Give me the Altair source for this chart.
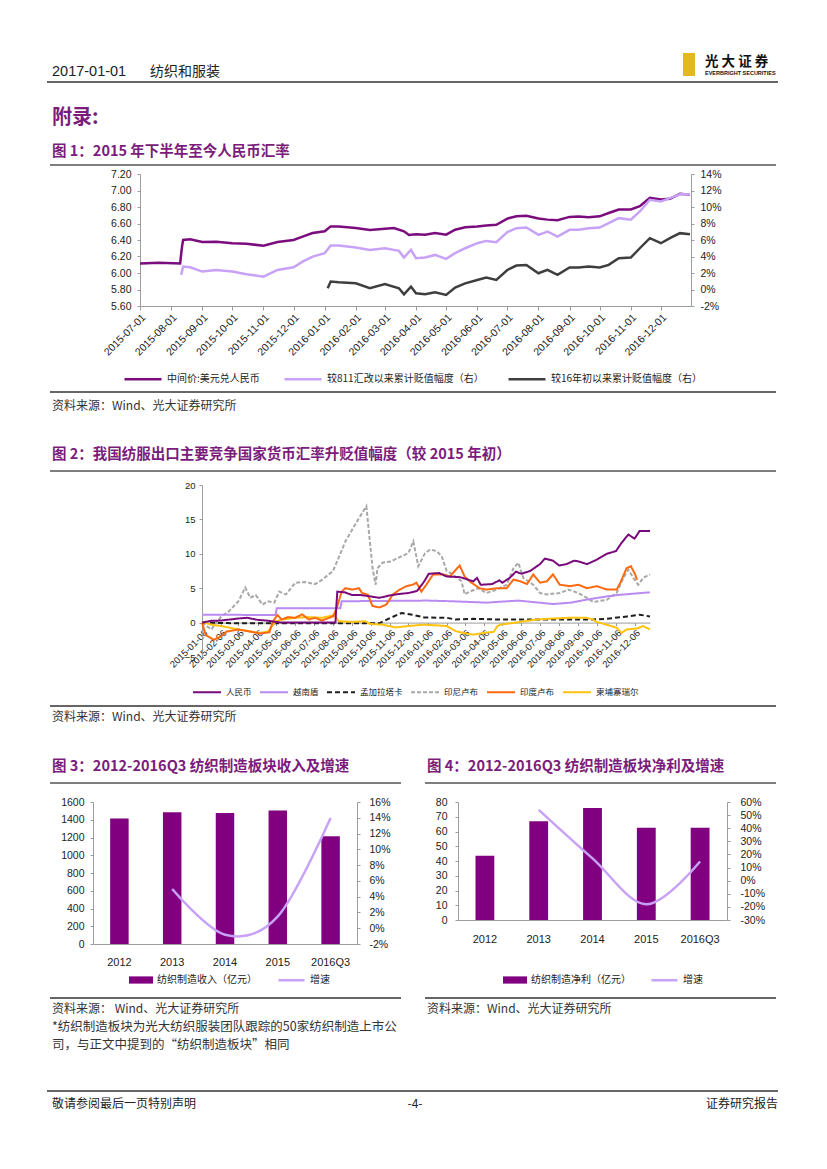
import altair as alt
import pandas as pd

CJK = "Noto Sans CJK SC"
LAT = "Liberation Sans"
TITLE_C = "#7B1C7C"
W, H = 811, 1153
OX, OY = 8, 8

# ---------------- Figure 1 data ----------------
f1_series = ["中间价:美元兑人民币", "较811汇改以来累计贬值幅度（右）", "较16年初以来累计贬值幅度（右）"]
f1_colors = ["#7B0C7E", "#C7A2F7", "#3E3E3E"]
f1_xticks = ["2015-07-01", "2015-08-01", "2015-09-01", "2015-10-01", "2015-11-01", "2015-12-01",
             "2016-01-01", "2016-02-01", "2016-03-01", "2016-04-01", "2016-05-01", "2016-06-01",
             "2016-07-01", "2016-08-01", "2016-09-01", "2016-10-01", "2016-11-01", "2016-12-01"]
f1_yl_ticks = [5.6, 5.8, 6.0, 6.2, 6.4, 6.6, 6.8, 7.0, 7.2]
f1_yr_ticks = [-2, 0, 2, 4, 6, 8, 10, 12, 14]

f1_mid_dates = ["2015-07-01", "2015-07-20", "2015-08-10", "2015-08-11", "2015-08-12", "2015-08-13",
                "2015-08-20", "2015-09-01", "2015-09-15", "2015-10-01", "2015-10-15", "2015-11-01",
                "2015-11-15", "2015-12-01", "2015-12-10", "2015-12-20", "2016-01-01", "2016-01-07",
                "2016-01-15", "2016-02-01", "2016-02-15", "2016-03-01", "2016-03-10", "2016-03-20",
                "2016-03-25", "2016-04-01", "2016-04-10", "2016-04-20", "2016-05-01", "2016-05-10",
                "2016-05-20", "2016-06-01", "2016-06-10", "2016-06-20", "2016-07-01", "2016-07-10",
                "2016-07-20", "2016-08-01", "2016-08-10", "2016-08-20", "2016-09-01", "2016-09-10",
                "2016-09-20", "2016-10-01", "2016-10-10", "2016-10-20", "2016-11-01", "2016-11-10",
                "2016-11-20", "2016-12-01", "2016-12-10", "2016-12-20", "2016-12-30"]
f1_mid_vals = [6.115, 6.125, 6.116, 6.23, 6.33, 6.40,
               6.41, 6.375, 6.38, 6.36, 6.355, 6.33,
               6.375, 6.40, 6.44, 6.485, 6.505, 6.565,
               6.565, 6.545, 6.52, 6.535, 6.545, 6.505,
               6.46, 6.47, 6.465, 6.485, 6.465, 6.525,
               6.555, 6.565, 6.575, 6.585, 6.66, 6.687,
               6.695, 6.66, 6.647, 6.64, 6.68, 6.685,
               6.675, 6.687, 6.727, 6.77, 6.77, 6.81,
               6.91, 6.89, 6.90, 6.96, 6.95]

f1_811_dates = ["2015-08-11", "2015-08-13", "2015-08-20", "2015-09-01", "2015-09-15", "2015-10-01",
                "2015-10-15", "2015-11-01", "2015-11-15", "2015-12-01", "2015-12-10", "2015-12-20",
                "2016-01-01", "2016-01-07", "2016-01-15", "2016-02-01", "2016-02-15", "2016-03-01",
                "2016-03-15", "2016-03-20", "2016-03-27", "2016-04-01", "2016-04-10", "2016-04-20",
                "2016-05-01", "2016-05-10", "2016-05-20", "2016-06-01", "2016-06-10", "2016-06-20",
                "2016-07-01", "2016-07-10", "2016-07-20", "2016-08-01", "2016-08-10", "2016-08-20",
                "2016-09-01", "2016-09-10", "2016-09-20", "2016-10-01", "2016-10-10", "2016-10-20",
                "2016-11-01", "2016-11-10", "2016-11-20", "2016-12-01", "2016-12-10", "2016-12-20",
                "2016-12-30"]
f1_811_vals = [1.77, 2.78, 2.70, 2.17, 2.37, 2.17,
               1.85, 1.56, 2.37, 2.70, 3.38, 3.99,
               4.40, 5.33, 5.33, 5.09, 4.80, 5.00,
               4.68, 3.87, 4.80, 3.79, 3.87, 4.19,
               3.71, 4.40, 5.00, 5.61, 5.89, 5.73,
               6.95, 7.43, 7.51, 6.62, 7.03, 6.42,
               7.23, 7.23, 7.43, 7.51, 8.04, 8.65,
               8.45, 9.46, 10.87, 10.67, 11.08, 11.56,
               11.56]

f1_16_dates = ["2016-01-04", "2016-01-07", "2016-01-15", "2016-02-01", "2016-02-15", "2016-03-01",
               "2016-03-15", "2016-03-20", "2016-03-27", "2016-04-01", "2016-04-10", "2016-04-20",
               "2016-05-01", "2016-05-10", "2016-05-20", "2016-06-01", "2016-06-10", "2016-06-20",
               "2016-07-01", "2016-07-10", "2016-07-20", "2016-08-01", "2016-08-10", "2016-08-20",
               "2016-09-01", "2016-09-10", "2016-09-20", "2016-10-01", "2016-10-10", "2016-10-20",
               "2016-11-01", "2016-11-10", "2016-11-20", "2016-12-01", "2016-12-10", "2016-12-20",
               "2016-12-30"]
f1_16_vals = [0.15, 0.96, 0.87, 0.75, 0.15, 0.67,
              0.15, -0.58, 0.35, -0.46, -0.58, -0.34,
              -0.66, 0.23, 0.75, 1.16, 1.44, 1.16,
              2.37, 2.90, 2.98, 1.97, 2.37, 1.77,
              2.66, 2.66, 2.78, 2.66, 2.98, 3.79,
              3.87, 5.00, 6.22, 5.61, 6.22, 6.83,
              6.70]

# ---------------- Figure 2 data ----------------
f2_series = ["人民币", "越南盾", "孟加拉塔卡", "印尼卢布", "印度卢布", "柬埔寨瑞尔"]
f2_colors = ["#7A0A7C", "#B98AF0", "#1E1E1E", "#A8A8A8", "#FF6A10", "#FFC20E"]
f2_dashes = [[1, 0], [1, 0], [5, 3], [4, 2], [1, 0], [1, 0]]
f2_xticks = ["2015-01-06", "2015-02-06", "2015-03-06", "2015-04-06", "2015-05-06", "2015-06-06",
             "2015-07-06", "2015-08-06", "2015-09-06", "2015-10-06", "2015-11-06", "2015-12-06",
             "2016-01-06", "2016-02-06", "2016-03-06", "2016-04-06", "2016-05-06", "2016-06-06",
             "2016-07-06", "2016-08-06", "2016-09-06", "2016-10-06", "2016-11-06", "2016-12-06"]
f2_yticks = [-5, 0, 5, 10, 15, 20]

rmb_dates = ["2015-01-06", "2015-01-20", "2015-02-06", "2015-03-06", "2015-03-20", "2015-04-06",
             "2015-04-20", "2015-05-06", "2015-05-15", "2015-08-10", "2015-08-11", "2015-08-13",
             "2015-08-25", "2015-09-06", "2015-09-20", "2015-10-06", "2015-10-20", "2015-11-06",
             "2015-11-20", "2015-12-06", "2015-12-20", "2015-12-31", "2016-01-08", "2016-01-25",
             "2016-02-06", "2016-02-28", "2016-03-20", "2016-03-26", "2016-04-01", "2016-04-20",
             "2016-05-01", "2016-05-06", "2016-05-18", "2016-05-28", "2016-06-06", "2016-06-20",
             "2016-07-06", "2016-07-14", "2016-07-27", "2016-08-06", "2016-08-18", "2016-08-30",
             "2016-09-06", "2016-09-20", "2016-10-06", "2016-10-22", "2016-11-06", "2016-11-15",
             "2016-11-26", "2016-12-06", "2016-12-14", "2016-12-31"]
rmb_vals = [0.0, 0.25, 0.3, 0.6, 0.7, 0.4,
            0.3, 0.1, 0.0, 0.0, 1.9, 4.5,
            4.4, 4.0, 4.0, 3.8, 3.6, 3.95,
            4.15, 4.3, 4.6, 5.9, 7.1, 7.2,
            6.7, 6.6, 6.0, 6.5, 5.5, 5.6,
            6.15, 5.8, 6.5, 7.4, 7.1, 7.5,
            8.5, 9.3, 9.0, 8.3, 8.5, 9.0,
            8.9, 8.5, 9.15, 10.0, 10.4, 11.6,
            12.8, 12.2, 13.3, 13.3]

vnd_dates = ["2015-01-06", "2015-05-05", "2015-05-07", "2015-08-18", "2015-08-20", "2016-01-06",
             "2016-02-16", "2016-04-10", "2016-06-01", "2016-07-27", "2016-08-25", "2016-09-20",
             "2016-10-22", "2016-11-13", "2016-12-31"]
vnd_vals = [1.15, 1.1, 2.1, 2.1, 3.1, 3.2,
            3.1, 2.9, 3.2, 2.7, 2.9, 3.35,
            3.8, 4.05, 4.4]

bdt_dates = ["2015-01-06", "2015-03-01", "2015-06-01", "2015-10-20", "2015-11-05", "2015-11-25",
             "2015-12-15", "2015-12-31", "2016-02-06", "2016-02-20", "2016-03-20", "2016-05-01",
             "2016-07-01", "2016-09-30", "2016-10-22", "2016-11-24", "2016-12-14", "2016-12-31"]
bdt_vals = [0.0, -0.1, -0.1, -0.1, 0.6, 1.4,
            1.1, 0.75, 0.7, 0.45, 0.55, 0.45,
            0.45, 0.45, 0.55, 0.9, 1.15, 0.9]

idr_dates = ["2015-01-06", "2015-01-21", "2015-02-06", "2015-02-18", "2015-03-06", "2015-03-17",
             "2015-03-25", "2015-04-03", "2015-04-14", "2015-04-22", "2015-05-03", "2015-05-11",
             "2015-05-22", "2015-06-06", "2015-06-22", "2015-07-08", "2015-07-19", "2015-08-06",
             "2015-08-15", "2015-08-26", "2015-09-06", "2015-09-17", "2015-09-29", "2015-10-09",
             "2015-10-14", "2015-10-17", "2015-10-25", "2015-11-08", "2015-11-19", "2015-12-06",
             "2015-12-14", "2015-12-22", "2016-01-02", "2016-01-10", "2016-01-21", "2016-01-29",
             "2016-02-06", "2016-02-16", "2016-03-01", "2016-03-06", "2016-03-14", "2016-03-28",
             "2016-04-10", "2016-04-27", "2016-05-13", "2016-05-24", "2016-06-01", "2016-06-09",
             "2016-06-25", "2016-07-06", "2016-07-17", "2016-08-07", "2016-08-21", "2016-09-06",
             "2016-09-20", "2016-09-30", "2016-10-22", "2016-11-07", "2016-11-18", "2016-11-26",
             "2016-12-04", "2016-12-12", "2016-12-20", "2016-12-31"]
idr_vals = [0.0, -1.0, 0.9, 1.6, 3.1, 5.1,
            3.6, 4.0, 2.6, 3.1, 2.9, 4.5,
            4.1, 5.8, 5.9, 5.6, 6.2, 7.5,
            9.4, 11.8, 13.5, 15.2, 16.9, 7.9,
            5.5, 7.9, 8.7, 8.9, 9.4, 10.1,
            11.8, 8.2, 10.1, 10.6, 10.4, 9.6,
            7.5, 7.0, 6.0, 4.1, 4.5, 5.0,
            4.3, 4.8, 5.5, 7.9, 8.7, 6.5,
            5.5, 4.3, 4.1, 4.3, 4.8, 4.3,
            3.6, 3.0, 3.3, 4.3, 6.5, 7.7,
            6.5, 5.5, 6.5, 7.0]

inr_dates = ["2015-01-06", "2015-01-12", "2015-01-25", "2015-02-06", "2015-02-15", "2015-03-06",
             "2015-03-25", "2015-04-10", "2015-04-25", "2015-05-01", "2015-05-08", "2015-05-15",
             "2015-05-25", "2015-06-06", "2015-06-17", "2015-06-28", "2015-07-08", "2015-07-19",
             "2015-08-06", "2015-08-12", "2015-08-20", "2015-08-26", "2015-09-06", "2015-09-17",
             "2015-09-22", "2015-10-01", "2015-10-09", "2015-10-20", "2015-10-31", "2015-11-11",
             "2015-11-22", "2015-12-03", "2015-12-13", "2015-12-19", "2015-12-27", "2016-01-04",
             "2016-01-15", "2016-02-01", "2016-02-11", "2016-02-21", "2016-02-27", "2016-03-06",
             "2016-03-14", "2016-03-22", "2016-03-30", "2016-04-10", "2016-04-27", "2016-05-13",
             "2016-05-24", "2016-06-04", "2016-06-15", "2016-06-25", "2016-07-06", "2016-07-17",
             "2016-07-27", "2016-08-07", "2016-08-24", "2016-09-06", "2016-09-20", "2016-10-06",
             "2016-10-22", "2016-11-07", "2016-11-13", "2016-11-23", "2016-11-30", "2016-12-07",
             "2016-12-10"]
inr_vals = [0.0, -1.8, -2.5, -2.0, -1.3, -1.0,
            -1.3, -1.6, -1.4, 0.2, 1.1, 0.45,
            0.8, 0.7, 1.2, 0.45, 0.7, 0.3,
            0.9, 2.1, 4.5, 5.0, 4.8, 5.0,
            4.3, 4.1, 2.4, 2.2, 2.6, 4.1,
            4.8, 5.3, 5.5, 5.8, 4.5, 5.5,
            7.0, 7.0, 6.7, 7.7, 8.3, 6.7,
            6.0, 5.5, 5.0, 4.8, 5.0, 5.0,
            6.25, 6.0, 5.6, 7.0, 5.8, 6.0,
            7.0, 5.5, 5.3, 5.5, 5.0, 5.3,
            4.8, 4.8, 5.8, 7.9, 8.2, 7.0,
            6.2]

khr_dates = ["2015-01-06", "2015-01-21", "2015-02-06", "2015-03-06", "2015-03-22", "2015-04-08",
             "2015-04-22", "2015-05-01", "2015-05-06", "2015-05-15", "2015-06-06", "2015-06-28",
             "2015-07-19", "2015-08-06", "2015-08-10", "2015-08-15", "2015-09-06", "2015-09-27",
             "2015-10-05", "2015-10-25", "2015-11-15", "2015-12-06", "2015-12-31", "2016-01-21",
             "2016-02-06", "2016-02-21", "2016-03-04", "2016-03-20", "2016-04-06", "2016-04-22",
             "2016-04-28", "2016-05-03", "2016-05-24", "2016-06-04", "2016-06-30", "2016-07-27",
             "2016-08-24", "2016-09-20", "2016-09-30", "2016-10-05", "2016-10-22", "2016-11-07",
             "2016-11-15", "2016-11-23", "2016-12-10", "2016-12-20", "2016-12-31"]
khr_vals = [0.1, -0.3, -0.5, -1.0, -1.25, -1.5,
            -1.35, -0.3, 0.2, 0.45, 0.7, 0.8,
            0.7, 1.05, 0.9, 0.2, 0.1, 0.2,
            -0.2, -0.3, -0.7, -0.5, -0.3, -0.4,
            -0.5, -1.25, -1.5, -1.75, -1.5, -1.35,
            -0.5, -0.3, -0.05, 0.1, 0.45, 0.6,
            0.7, 0.7, 0.45, 0.1, -0.3, -0.75,
            -1.5, -1.0, -0.85, -0.5, -1.0]

# ---------------- Figure 3 / 4 data ----------------
f34_years = ["2012", "2013", "2014", "2015", "2016Q3"]
f3_revenue = [1415, 1485, 1475, 1505, 1215]
f3_growth = [None, 4.97, -0.82, 1.5, 13.97]
f4_profit = [43.5, 67, 76, 62.5, 62.5]
f4_growth = [None, 54.0, 17.0, -18.0, 14.6]
f3_yl_ticks = [0, 200, 400, 600, 800, 1000, 1200, 1400, 1600]
f3_yr_ticks = [-2, 0, 2, 4, 6, 8, 10, 12, 14, 16]
f4_yl_ticks = [0, 10, 20, 30, 40, 50, 60, 70, 80]
f4_yr_ticks = [-30, -20, -10, 0, 10, 20, 30, 40, 50, 60]
BAR_C = "#800080"
LINE_C = "#C8A2F6"


def dt(s):
    y, m, d = map(int, s.split("-"))
    return alt.DateTime(year=y, month=m, date=d, utc=True)


ONE = pd.DataFrame({"k": [0]})


def txt(s, x, y, size, color="#222222", weight="normal", font=CJK, align="left"):
    return alt.Chart(ONE).mark_text(text=s, fontSize=size, color=color, fontWeight=weight,
                                    font=font, align=align, baseline="middle").encode(
        x=alt.value(x - OX), y=alt.value(y - OY))


def hline(x1, x2, y, color="#555555", width=1.5):
    return alt.Chart(ONE).mark_rule(color=color, strokeWidth=width).encode(
        x=alt.value(x1 - OX), x2=alt.value(x2 - OX), y=alt.value(y - OY))


def leg_y(center, sym_len, sw):
    return center - OY - (sym_len + sw) / 2.0


AX = dict(title=None, grid=False, labelOverlap=False, labelFlush=False, labelFont=LAT,
          labelColor="#222222", domainColor="#9c9c9c", tickColor="#9c9c9c")

# ---------------- Figure 1 ----------------
x1 = alt.Scale(type="utc", domain=[dt("2015-07-01"), dt("2016-12-31")], range=[140 - OX, 691 - OX])
yl1 = alt.Scale(domain=[5.6, 7.2], range=[306 - OY, 174 - OY], nice=False, zero=False)
yr1 = alt.Scale(domain=[-2, 14], range=[306 - OY, 174 - OY], nice=False, zero=False)
ax1x = alt.Axis(orient="bottom", offset=(306 - OY) - H, values=[dt(s) for s in f1_xticks],
                labelExpr="utcFormat(datum.value, '%Y-%m-%d')", labelAngle=-45, labelFontSize=10.5,
                tickSize=4, labelPadding=2, **AX)
leg1 = alt.Legend(orient="none", legendX=123 - OX, legendY=leg_y(379, 37, 2.5), direction="horizontal",
                  title=None, symbolType="stroke", symbolSize=37 * 37, symbolStrokeWidth=2.5,
                  labelFont=CJK, labelFontSize=10, labelColor="#222222", columnPadding=19,
                  labelLimit=400, padding=0)
col1 = alt.Color("series:N", scale=alt.Scale(domain=f1_series, range=f1_colors), legend=leg1)

f1_mid_df = pd.DataFrame({"date": f1_mid_dates, "value": f1_mid_vals, "series": f1_series[0]})
f1_pct_df = pd.concat([
    pd.DataFrame({"date": f1_811_dates, "value": f1_811_vals, "series": f1_series[1]}),
    pd.DataFrame({"date": f1_16_dates, "value": f1_16_vals, "series": f1_series[2]}),
])

f1_a = alt.Chart(f1_mid_df).mark_line(strokeWidth=2.5).encode(
    x=alt.X("date:T", scale=x1, axis=ax1x),
    y=alt.Y("value:Q", scale=yl1, axis=alt.Axis(
        orient="left", offset=-(140 - OX), values=f1_yl_ticks, format=".2f", labelFontSize=10.5,
        tickSize=3, labelPadding=6, **AX)),
    color=col1,
)
f1_b = alt.Chart(f1_pct_df).mark_line(strokeWidth=2.5).encode(
    x=alt.X("date:T", scale=x1, axis=ax1x),
    y=alt.Y("value:Q", scale=yr1, axis=alt.Axis(
        orient="right", offset=(691 - OX) - W, values=f1_yr_ticks, labelExpr="datum.value + '%'",
        labelFontSize=10.5, tickSize=3, labelPadding=6, **AX)),
    color=col1,
)
fig1 = alt.layer(f1_a, f1_b).resolve_scale(y="independent")

# ---------------- Figure 2 ----------------
f2_df = pd.concat([
    pd.DataFrame({"date": idr_dates, "value": idr_vals, "series": "印尼卢布"}),
    pd.DataFrame({"date": vnd_dates, "value": vnd_vals, "series": "越南盾"}),
    pd.DataFrame({"date": bdt_dates, "value": bdt_vals, "series": "孟加拉塔卡"}),
    pd.DataFrame({"date": khr_dates, "value": khr_vals, "series": "柬埔寨瑞尔"}),
    pd.DataFrame({"date": inr_dates, "value": inr_vals, "series": "印度卢布"}),
    pd.DataFrame({"date": rmb_dates, "value": rmb_vals, "series": "人民币"}),
])
x2 = alt.Scale(type="utc", domain=[dt("2015-01-06"), dt("2016-12-31")], range=[202 - OX, 650 - OX])
y2 = alt.Scale(domain=[-5, 20], range=[657 - OY, 485 - OY], nice=False, zero=False)
leg2 = alt.Legend(orient="none", legendX=192 - OX, legendY=leg_y(692, 28, 2), direction="horizontal",
                  title=None, symbolType="stroke", symbolSize=28 * 28, symbolStrokeWidth=2,
                  labelFont=CJK, labelFontSize=8.5, labelColor="#222222", columnPadding=4,
                  labelLimit=400, padding=0)
fig2 = alt.Chart(f2_df).mark_line(strokeWidth=2).encode(
    x=alt.X("date:T", scale=x2, axis=alt.Axis(
        orient="bottom", offset=(622.6 - OY) - H, values=[dt(s) for s in f2_xticks],
        labelExpr="utcFormat(datum.value, '%Y-%m-%d')", labelAngle=-45, labelFontSize=9.5,
        tickSize=3, labelPadding=2, **AX)),
    y=alt.Y("value:Q", scale=y2, axis=alt.Axis(
        orient="left", offset=-(202 - OX), values=f2_yticks, labelFontSize=9.5,
        tickSize=3, labelPadding=4, **AX)),
    color=alt.Color("series:N", scale=alt.Scale(domain=f2_series, range=f2_colors), legend=leg2),
    strokeDash=alt.StrokeDash("series:N", scale=alt.Scale(domain=f2_series, range=f2_dashes), legend=leg2),
)

# ---------------- Figure 3 / 4 builder ----------------
BAR_PATH = "M-1,-0.3L1,-0.3L1,0.3L-1,0.3Z"


def combo(vals, growth, bar_name, left, right, top, bottom, yl_dom, yr_dom, yl_ticks, yr_ticks,
          lab_pad, lpad_l, lpad_r, bar_leg_x, line_leg_x, leg_cy):
    xs = alt.Scale(domain=f34_years, range=[left - OX, right - OX], paddingInner=0.65, paddingOuter=0.325)
    xaxis = alt.Axis(orient="bottom", offset=(bottom - OY) - H, ticks=False, tickSize=0, labelAngle=0,
                     labelFontSize=11, labelPadding=lab_pad, **AX)
    bar_df = pd.DataFrame({"year": f34_years, "value": vals, "name": bar_name})
    line_df = pd.DataFrame({"year": f34_years, "value": growth, "name": "增速"}).dropna()
    bars = alt.Chart(bar_df).mark_bar(color=BAR_C).encode(
        x=alt.X("year:N", scale=xs, sort=f34_years, axis=xaxis),
        y=alt.Y("value:Q", scale=alt.Scale(domain=yl_dom, range=[bottom - OY, top - OY], nice=False),
                axis=alt.Axis(orient="left", offset=-(left - OX), values=yl_ticks, format="d",
                              labelFontSize=10.5, tickSize=3, labelPadding=lpad_l, **AX)),
        color=alt.Color("name:N", scale=alt.Scale(domain=[bar_name], range=[BAR_C]), legend=alt.Legend(
            orient="none", legendX=bar_leg_x - OX, legendY=leg_y(leg_cy, 24, 0), direction="horizontal",
            title=None, symbolType=BAR_PATH, symbolSize=24 * 24, symbolStrokeWidth=0,
            labelFont=CJK, labelFontSize=10, labelColor="#222222", labelLimit=400, padding=0)),
    )
    line = alt.Chart(line_df).mark_line(interpolate="cardinal", strokeWidth=2.5).encode(
        x=alt.X("year:N", scale=xs, sort=f34_years, axis=xaxis, bandPosition=0.5),
        y=alt.Y("value:Q", scale=alt.Scale(domain=yr_dom, range=[bottom - OY, top - OY], nice=False, zero=False),
                axis=alt.Axis(orient="right", offset=(right - OX) - W, values=yr_ticks,
                              labelExpr="datum.value + '%'", labelFontSize=10.5, tickSize=3,
                              labelPadding=lpad_r, **AX)),
        color=alt.Color("name:N", scale=alt.Scale(domain=["增速"], range=[LINE_C]), legend=alt.Legend(
            orient="none", legendX=line_leg_x - OX, legendY=leg_y(leg_cy, 26, 2.5), direction="horizontal",
            title=None, symbolType="stroke", symbolSize=26 * 26, symbolStrokeWidth=2.5,
            labelFont=CJK, labelFontSize=10, labelColor="#222222", labelLimit=400, padding=0)),
    )
    return alt.layer(bars, line).resolve_scale(y="independent", color="independent")


fig3 = combo(f3_revenue, f3_growth, "纺织制造收入（亿元）", 93, 357, 802, 944, [0, 1600], [-2, 16],
             f3_yl_ticks, f3_yr_ticks, 12, 6, 9, 129, 277, 980)
fig4 = combo(f4_profit, f4_growth, "纺织制造净利（亿元）", 458, 727, 802, 920, [0, 80], [-30, 60],
             f4_yl_ticks, f4_yr_ticks, 13, 8, 10, 503, 650, 980)

# ---------------- Page furniture ----------------
logo = alt.Chart(ONE).mark_rect(color="#E2BA1C").encode(
    x=alt.value(683 - OX), x2=alt.value(695 - OX), y=alt.value(53 - OY), y2=alt.value(76 - OY))

texts = [
    txt("2017-01-01", 52, 72, 14.5, font=LAT),
    txt("纺织和服装", 150, 72, 14),
    txt("光 大 证 券", 705, 62, 13.5, color="#111111", weight="bold"),
    txt("EVERBRIGHT SECURITIES", 705, 73, 5.5, color="#111111", weight="bold", font=LAT),
    txt("附录:", 52, 118, 20, color=TITLE_C, weight="bold"),
    txt("图 1：2015 年下半年至今人民币汇率", 52, 152, 14.5, color=TITLE_C, weight="bold"),
    txt("资料来源：Wind、光大证券研究所", 52, 406, 12, color="#333333"),
    txt("图 2：我国纺服出口主要竞争国家货币汇率升贬值幅度（较 2015 年初）", 52, 455, 14.5, color=TITLE_C, weight="bold"),
    txt("资料来源：Wind、光大证券研究所", 52, 717, 12, color="#333333"),
    txt("图 3：2012-2016Q3 纺织制造板块收入及增速", 52, 767, 14.5, color=TITLE_C, weight="bold"),
    txt("图 4：2012-2016Q3 纺织制造板块净利及增速", 427, 767, 14.5, color=TITLE_C, weight="bold"),
    txt("资料来源：  Wind、光大证券研究所", 52, 1009, 12, color="#333333"),
    txt("*纺织制造板块为光大纺织服装团队跟踪的50家纺织制造上市公", 52, 1027, 12.5, color="#333333"),
    txt("司，与正文中提到的“纺织制造板块”相同", 52, 1045, 12.5, color="#333333"),
    txt("资料来源：Wind、光大证券研究所", 427, 1009, 12, color="#333333"),
    txt("敬请参阅最后一页特别声明", 52, 1104, 12),
    txt("-4-", 415, 1104, 12, align="center"),
    txt("证券研究报告", 778, 1104, 12, align="right"),
]
rules = [
    hline(47, 778, 82, "#333333", 1.5),
    hline(50, 776, 165, "#555555", 1.5),
    hline(50, 776, 392, "#666666", 2),
    hline(50, 776, 471, "#555555", 1.5),
    hline(50, 776, 706, "#666666", 2),
    hline(50, 401, 783, "#555555", 1.5),
    hline(425, 776, 783, "#555555", 1.5),
    hline(50, 401, 998, "#666666", 2),
    hline(425, 776, 998, "#666666", 2),
    hline(47, 778, 1091, "#333333", 1.5),
]

chart = alt.layer(*rules, logo, *texts, fig1, fig2, fig3, fig4).resolve_scale(
    x="independent", y="independent", color="independent", strokeDash="independent"
).properties(
    width=W, height=H, padding=0, autosize=alt.AutoSizeParams(type="none")
).configure_view(stroke=None)

chart.save("out.html", embed_options={"renderer": "svg", "actions": False})
